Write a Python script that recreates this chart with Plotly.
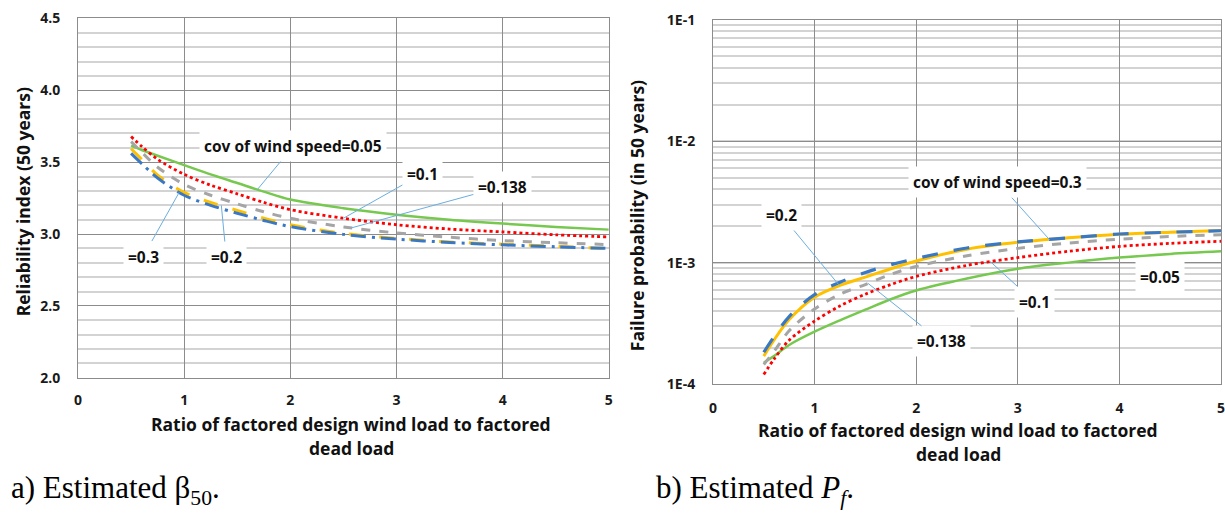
import plotly.graph_objects as go
import numpy as np

# ---------------- data ----------------
ratio = [0.5, 0.6, 0.75, 1.0, 1.25, 1.5, 1.75, 2.0, 2.5, 3.0, 3.5, 4.0, 4.5, 5.0]

cov_labels = ["0.05", "0.1", "0.138", "0.2", "0.3"]

beta_005 = [3.615, 3.585, 3.545, 3.48, 3.415, 3.355, 3.295, 3.24, 3.18, 3.135, 3.10, 3.073, 3.05, 3.031]
beta_010 = [3.678, 3.61, 3.52, 3.415, 3.34, 3.28, 3.22, 3.17, 3.11, 3.065, 3.035, 3.015, 2.995, 2.98]
beta_0138 = [3.643, 3.57, 3.465, 3.345, 3.27, 3.21, 3.155, 3.11, 3.05, 3.008, 2.978, 2.955, 2.94, 2.927]
beta_020 = [3.594, 3.52, 3.41, 3.29, 3.22, 3.165, 3.11, 3.065, 3.005, 2.97, 2.945, 2.93, 2.915, 2.90]
beta_030 = [3.561, 3.49, 3.39, 3.27, 3.20, 3.145, 3.095, 3.052, 2.998, 2.965, 2.942, 2.925, 2.912, 2.90]

pf_005 = [1.5e-4, 1.7e-4, 2.1e-4, 2.7e-4, 3.35e-4, 4.1e-4, 5.0e-4, 5.9e-4, 7.4e-4, 8.9e-4, 1.0e-3, 1.10e-3, 1.18e-3, 1.24e-3]
pf_010 = [1.2e-4, 1.6e-4, 2.3e-4, 3.3e-4, 4.4e-4, 5.5e-4, 6.6e-4, 7.7e-4, 9.5e-4, 1.10e-3, 1.24e-3, 1.36e-3, 1.44e-3, 1.50e-3]
pf_0138 = [1.45e-4, 1.85e-4, 2.75e-4, 4.15e-4, 5.5e-4, 6.6e-4, 8.0e-4, 9.3e-4, 1.14e-3, 1.31e-3, 1.45e-3, 1.56e-3, 1.64e-3, 1.70e-3]
pf_020 = [1.7e-4, 2.3e-4, 3.4e-4, 5.2e-4, 6.5e-4, 7.6e-4, 8.9e-4, 1.03e-3, 1.29e-3, 1.47e-3, 1.60e-3, 1.71e-3, 1.78e-3, 1.84e-3]
pf_030 = [1.83e-4, 2.45e-4, 3.6e-4, 5.45e-4, 6.9e-4, 8.3e-4, 9.6e-4, 1.08e-3, 1.32e-3, 1.48e-3, 1.60e-3, 1.72e-3, 1.78e-3, 1.83e-3]

pf_tickvals = [1e-4, 1e-3, 1e-2, 1e-1]
pf_ticktext = ["1E-4", "1E-3", "1E-2", "1E-1"]

# ---------------- styles ----------------
GREEN = "#77c84f"
RED = "#ff0000"
GRAY = "#a5a5a5"
YELLOW = "#ffc000"
BLUE = "#3b78c4"
LEADER = "#6aaee0"
FONT = "Open Sans"

W, H = 1225, 521
SX, OX = 0.992, 3.1    # observed mapping of page px -> photographed px
SY, OY = 0.9664, 8.05


def pxp(x):
    return min(1.0, max(0.0, ((x - OX) / SX) / W))


def pyp(y):
    return min(1.0, max(0.0, 1 - ((y - OY) / SY) / H))


fig = go.Figure()

left_styles = [
    (beta_005, GREEN, "solid", 2.5),
    (beta_010, RED, "dot", 2.8),
    (beta_0138, GRAY, "dash", 3),
    (beta_020, YELLOW, "longdash", 3),
    (beta_030, BLUE, "longdashdot", 3),
]
for (vals, col, dash, w), lab in zip(left_styles, cov_labels):
    fig.add_trace(go.Scatter(x=ratio, y=vals, mode="lines", name="cov=" + lab,
                             line=dict(color=col, dash=dash, width=w, shape="spline", smoothing=0.9),
                             xaxis="x", yaxis="y", hoverinfo="skip"))

right_styles = [
    (pf_005, GREEN, "solid", 2.5),
    (pf_010, RED, "dot", 2.8),
    (pf_0138, GRAY, "dash", 3),
    (pf_020, YELLOW, "solid", 3),
    (pf_030, BLUE, "longdash", 3.2),
]
for (vals, col, dash, w), lab in zip(right_styles, cov_labels):
    fig.add_trace(go.Scatter(x=ratio, y=vals, mode="lines", name="cov=" + lab,
                             line=dict(color=col, dash=dash, width=w, shape="spline", smoothing=0.9),
                             xaxis="x2", yaxis="y2", hoverinfo="skip"))

MAJ = "#8c8c8c"
MIN = "#d3d3d3"
tickfont = dict(family=FONT, size=14, color="#1a1a1a", weight="bold")

common_x = dict(range=[0, 5], dtick=1, tickformat="d", showgrid=True, gridcolor=MAJ,
                gridwidth=1, showline=True, mirror=True, linecolor=MAJ, linewidth=1,
                zeroline=False, ticks="", tickfont=tickfont, ticklabeloverflow="allow")

fig.update_layout(
    width=W, height=H, margin=dict(l=0, r=0, t=0, b=0),
    paper_bgcolor="white", plot_bgcolor="white", showlegend=False,
    xaxis=dict(domain=[pxp(77), pxp(607)], anchor="y", ticklabelstandoff=9, **common_x),
    yaxis=dict(domain=[pyp(377), pyp(16.5)], anchor="x", range=[2, 4.5], dtick=0.5,
               tickformat=".1f", showgrid=True, gridcolor=MAJ, gridwidth=1,
               minor=dict(dtick=0.1, showgrid=True, gridcolor=MIN, gridwidth=2),
               showline=True, mirror=True, linecolor=MAJ, linewidth=1, zeroline=False,
               ticks="", tickfont=tickfont, ticklabelstandoff=14, ticklabeloverflow="allow"),
    xaxis2=dict(domain=[pxp(711), pxp(1222)], anchor="y2", ticklabelstandoff=11, **common_x),
    yaxis2=dict(domain=[pyp(383.3), pyp(17.7)], anchor="x2", type="log", range=[-4, -1],
                tickvals=pf_tickvals, ticktext=pf_ticktext, showgrid=True, gridcolor=MAJ,
                gridwidth=1,
                minor=dict(dtick="D1", showgrid=True, gridcolor=MIN, gridwidth=2),
                showline=True, mirror=True, linecolor=MAJ, linewidth=1, zeroline=False,
                ticks="", tickfont=tickfont, ticklabelstandoff=14, ticklabeloverflow="allow"),
)

lab_font = dict(family=FONT, size=15.5, color="#111111", weight="bold")


def label(text, x, y, ax, ay, xref, yref, arrow=True):
    fig.add_annotation(text=text, x=x, y=y, xref=xref, yref=yref, ax=ax, ay=ay / SY,
                       showarrow=arrow, arrowhead=0, arrowwidth=1, arrowcolor=LEADER,
                       bgcolor="white", borderpad=4, font=lab_font)


# left chart labels (arrow tip on curve, label offset in px)
label("cov of wind speed=0.05", 1.69, 3.31, 36, -42, "x", "y")
label("=0.1", 2.50, 3.11, 79, -43, "x", "y")
label("=0.138", 2.575, 3.043, 151, -40, "x", "y")
label("=0.3", 0.953, 3.29, -36, 62, "x", "y")
label("=0.2", 1.35, 3.20, 5, 50, "x", "y")

# right chart labels (log axis -> y in log10 units)
label("cov of wind speed=0.3", 3.317, np.log10(1.53e-3), -52, -56, "x2", "y2")
label("=0.2", 1.243, np.log10(6.5e-4), -58, -68, "x2", "y2")
label("=0.138", 1.526, np.log10(6.75e-4), 73, 56, "x2", "y2")
label("=0.1", 2.73, np.log10(1.02e-3), 44, 39, "x2", "y2")
label("=0.05", 4.403, np.log10(7.57e-4), 0, 0, "x2", "y2", arrow=False)

title_font = dict(family=FONT, size=17.5, color="#111111", weight="bold")


def ptext(text, px, py, font, angle=0, xanchor="center", yanchor="middle"):
    fig.add_annotation(text=text, x=pxp(px), y=pyp(py), xref="paper", yref="paper",
                       showarrow=False, textangle=angle, font=font, xanchor=xanchor,
                       yanchor=yanchor)


# axis titles
ptext("Reliability index (50 years)", 22, 200, title_font, angle=-90)
ptext("Ratio of factored design wind load to factored", 350, 423, title_font)
ptext("dead load", 350, 447, title_font)
ptext("Failure probability (in 50 years)", 636, 214, title_font, angle=-90)
ptext("Ratio of factored design wind load to factored", 956, 429, title_font)
ptext("dead load", 956, 453, title_font)

# captions (kept inside the page)
cap_font = dict(family="Liberation Serif", size=31, color="#000000")
fig.add_annotation(text="a) Estimated \u03b2<sub>50</sub>.", x=pxp(8), y=0, xref="paper", yref="paper",
                   showarrow=False, font=cap_font, xanchor="left", yanchor="bottom")
fig.add_annotation(text="b) Estimated <i>P<sub>f</sub></i>.", x=pxp(652), y=0, xref="paper", yref="paper",
                   showarrow=False, font=cap_font, xanchor="left", yanchor="bottom")

fig.write_html("out.html", config={"displayModeBar": False})
